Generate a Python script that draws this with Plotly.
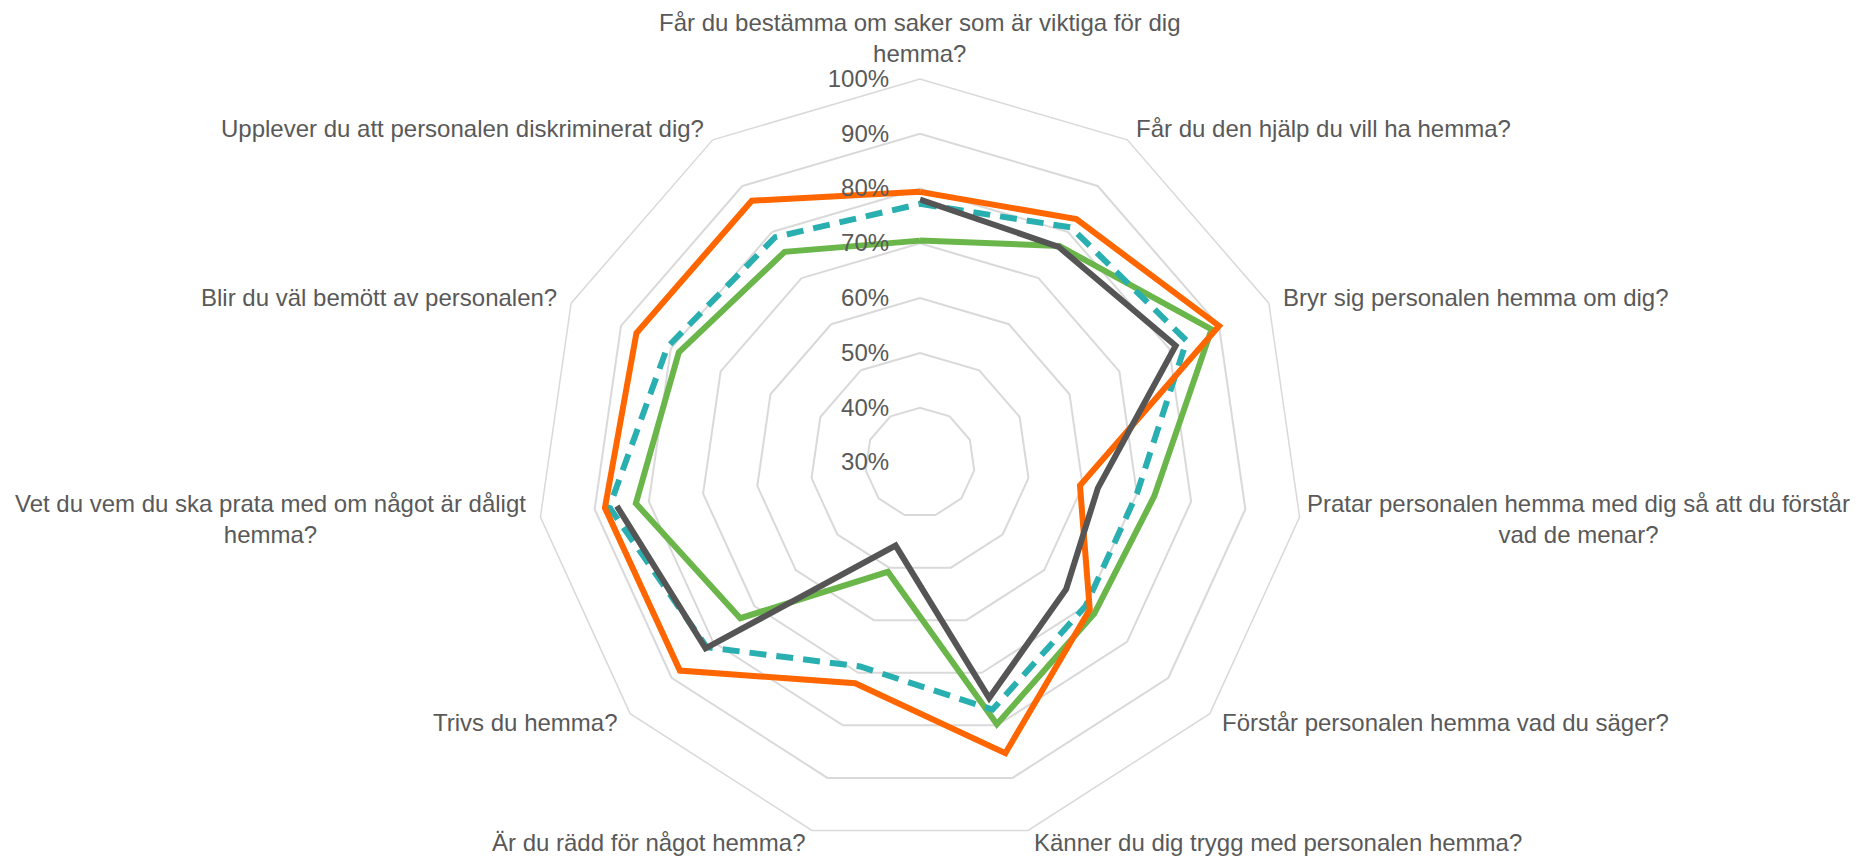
import math
import plotly.graph_objects as go

categories = [
    "Får du bestämma om saker som är viktiga för dig<br>hemma?",
    "Får du den hjälp du vill ha hemma?",
    "Bryr sig personalen hemma om dig?",
    "Pratar personalen hemma med dig så att du förstår<br>vad de menar?",
    "Förstår personalen hemma vad du säger?",
    "Känner du dig trygg med personalen hemma?",
    "Är du rädd för något hemma?",
    "Trivs du hemma?",
    "Vet du vem du ska prata med om något är dåligt<br>hemma?",
    "Blir du väl bemött av personalen?",
    "Upplever du att personalen diskriminerat dig?",
]

serie_orange = [0.794, 0.828, 0.900, 0.595, 0.710, 0.853, 0.720, 0.880, 0.881, 0.869, 0.868]
serie_teal = [0.772, 0.810, 0.835, 0.700, 0.700, 0.770, 0.688, 0.815, 0.873, 0.807, 0.789]
serie_green = [0.705, 0.770, 0.885, 0.732, 0.721, 0.798, 0.508, 0.734, 0.824, 0.784, 0.757]
serie_gray = [0.780, 0.768, 0.813, 0.628, 0.653, 0.748, 0.458, 0.818, 0.859, None, None]

tick_vals = [0.3, 0.4, 0.5, 0.6, 0.7, 0.8, 0.9, 1.0]
tick_text = ["30%", "40%", "50%", "60%", "70%", "80%", "90%", "100%"]

series = [
    ("Serie 2", serie_green, "#6AB64A", "solid"),
    ("Serie 3", serie_teal, "#2AAFB1", "17px,10px"),
    ("Serie 1", serie_orange, "#FF6600", "solid"),
    ("Serie 4", serie_gray, "#555555", "solid"),
]

# Layout geometry (figure pixels; page body adds an 8px offset)
W, H = 1852, 848
CX, CY, R = 912.0, 454.5, 383.5
PAD = 13.0
PAD_TOP = 9.5

fig = go.Figure()
for name, vals, color, dash in series:
    fig.add_trace(go.Scatterpolar(
        r=vals + [vals[0]],
        theta=categories + [categories[0]],
        mode="lines",
        name=name,
        line=dict(color=color, width=6, dash=dash),
        connectgaps=False,
        hoverinfo="r+theta",
    ))

font_family = "Liberation Sans, Arial, sans-serif"
label_font = dict(family=font_family, size=24, color="#595959")

annotations = []
n = len(categories)
for k, label in enumerate(categories):
    ang = math.radians(k * 360.0 / n)
    s, c = math.sin(ang), math.cos(ang)
    pad = PAD_TOP if k == 0 else PAD
    px = CX + (R + pad) * s
    py = CY - (R + pad) * c
    if abs(s) < 0.1:
        xanchor = "center"
    elif s > 0:
        xanchor = "left"
    else:
        xanchor = "right"
    yanchor = "bottom" if k == 0 else "middle"
    ann = dict(
        x=px / W, y=1 - py / H, xref="paper", yref="paper",
        text=label, showarrow=False, xanchor=xanchor, yanchor=yanchor,
        align="center", font=label_font,
    )
    if k == 3:
        ann["xshift"] = -7  # keep the long label inside the right edge
    annotations.append(ann)

fig.update_layout(
    width=W,
    height=H,
    margin=dict(l=0, r=0, t=0, b=0),
    paper_bgcolor="white",
    plot_bgcolor="white",
    showlegend=False,
    font=label_font,
    annotations=annotations,
    polar=dict(
        domain=dict(x=[(CX - R) / W, (CX + R) / W],
                    y=[(H - CY - R) / H, (H - CY + R) / H]),
        bgcolor="white",
        gridshape="linear",
        radialaxis=dict(
            range=[0.3, 1.0],
            tickvals=tick_vals,
            ticktext=tick_text,
            angle=90,
            side="counterclockwise",
            tickangle=90,
            showline=False,
            ticks="outside",
            ticklen=22,
            tickcolor="rgba(0,0,0,0)",
            gridcolor="#D9D9D9",
            gridwidth=1.5,
            tickfont=label_font,
        ),
        angularaxis=dict(
            rotation=90,
            direction="clockwise",
            showgrid=False,
            showline=True,
            linecolor="#D9D9D9",
            linewidth=1.5,
            ticks="",
            showticklabels=False,
        ),
    ),
)

fig.write_html("out.html")
